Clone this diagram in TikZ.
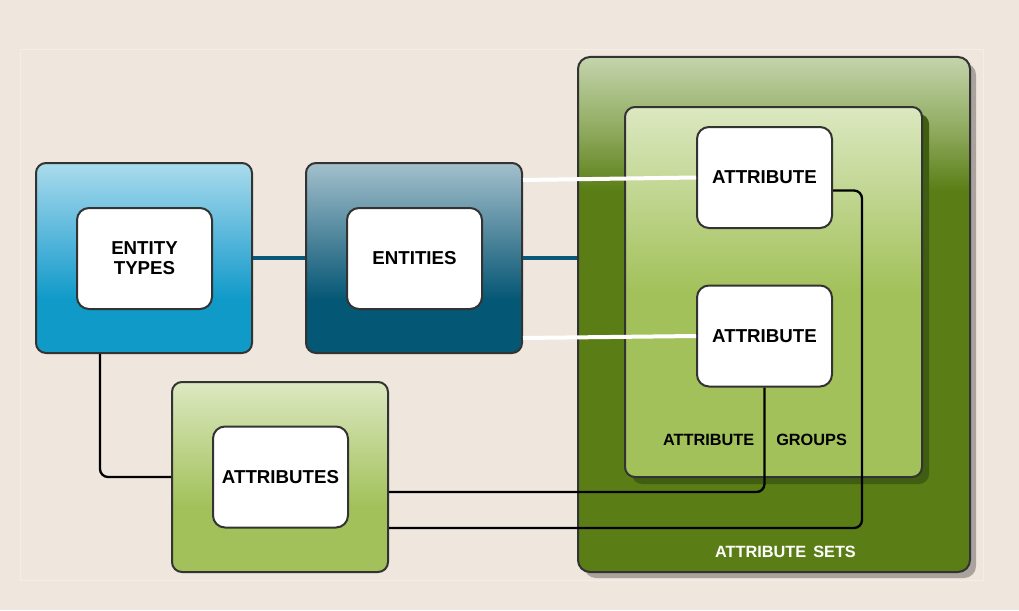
\documentclass[tikz,border=0pt]{standalone}
\usepackage{fontspec}
\setmainfont{Liberation Sans}
\usetikzlibrary{shadows}

\definecolor{pagebg}{HTML}{EFE6DD}
\definecolor{panelrim}{HTML}{F5EEE7}
\definecolor{rim}{HTML}{333333}
\definecolor{typestop}{HTML}{AADBEC}
\definecolor{typesmid}{HTML}{48B0D8}
\definecolor{typesbot}{HTML}{0F9AC8}
\definecolor{enttop}{HTML}{A3C0CC}
\definecolor{entmid}{HTML}{3F7B93}
\definecolor{entbot}{HTML}{045775}
\definecolor{settop}{HTML}{C4D4AC}
\definecolor{setmid}{HTML}{90AB60}
\definecolor{setbot}{HTML}{5A7E15}
\definecolor{grptop}{HTML}{DCE8C1}
\definecolor{grpbot}{HTML}{A2C15A}
\definecolor{setshadow}{HTML}{A9A29D}
\definecolor{grpshadow}{HTML}{3F5E12}
\definecolor{barcolor}{HTML}{0A5877}

\pgfdeclareverticalshading{typesgrad}{100bp}{color(0bp)=(typesbot); color(39bp)=(typesbot); color(52bp)=(typesmid); color(75bp)=(typestop); color(100bp)=(typestop)}
\pgfdeclareverticalshading{entgrad}{100bp}{color(0bp)=(entbot); color(39bp)=(entbot); color(52bp)=(entmid); color(75bp)=(enttop); color(100bp)=(enttop)}
\pgfdeclareverticalshading{setgrad}{100bp}{color(0bp)=(setbot); color(62bp)=(setbot); color(68bp)=(setmid); color(75bp)=(settop); color(100bp)=(settop)}
\pgfdeclareverticalshading{grpgrad}{100bp}{color(0bp)=(grpbot); color(50bp)=(grpbot); color(75bp)=(grptop); color(100bp)=(grptop)}
\pgfdeclareverticalshading{attrgrad}{100bp}{color(0bp)=(grpbot); color(42bp)=(grpbot); color(75bp)=(grptop); color(100bp)=(grptop)}

\begin{document}
\begin{tikzpicture}[x=1pt,y=-1pt,
	outerbox/.style={draw=rim, line width=2pt, rounded corners=10pt, inner sep=0pt,
		minimum width=216pt, minimum height=190pt},
	innerbox/.style={draw=rim, line width=2pt, rounded corners=12pt, fill=white, inner sep=0pt,
		minimum width=135pt, minimum height=101pt, align=center,
		font=\fontsize{18.7}{21}\selectfont\bfseries},
	caption/.style={font=\fontsize{16.3}{19}\selectfont\bfseries},
	link/.style={line width=2.3pt, rounded corners=8pt},
	bar/.style={barcolor, line width=4pt},
	wire/.style={white, line width=4pt}]
	\useasboundingbox (0,0) rectangle (1019,610);
	\fill[pagebg] (0,0) rectangle (1019,610);
	\draw[panelrim, line width=1pt] (20,50) rectangle (983,580);
	% nested sets and groups
	\node[outerbox, shading=setgrad, rounded corners=12pt, minimum width=392pt, minimum height=515pt,
		drop shadow={shadow xshift=6pt, shadow yshift=-6pt, fill=setshadow, opacity=1}] (setsbox) at (774,314.5) {};
	\node[outerbox, shading=grpgrad, minimum width=297pt, minimum height=370pt,
		drop shadow={shadow xshift=7pt, shadow yshift=-7pt, fill=grpshadow, opacity=1}] (grpbox) at (773.5,292) {};
	\node[caption] (grplabel) at (755,440) {ATTRIBUTE\hspace{22pt}GROUPS};
	\node[caption, white] (setlabel) at (785.5,552) {ATTRIBUTE\hspace{7pt}SETS};
	\node[innerbox] (attr1) at (764.5,177.5) {ATTRIBUTE};
	\node[innerbox] (attr2) at (764.5,336) {ATTRIBUTE};
	% left boxes
	\node[outerbox, shading=typesgrad] (typesbox) at (144,258) {};
	\node[innerbox] (types) at (144.5,258.5) {ENTITY\\[-1pt]TYPES};
	\node[outerbox, shading=entgrad] (entbox) at (414,258) {};
	\node[innerbox] (ent) at (414.5,258.5) {ENTITIES};
	\node[outerbox, shading=attrgrad] (attrsbox) at (280,477) {};
	\node[innerbox] (attrs) at (280.5,477) {ATTRIBUTES};
	% connectors
	\draw[bar] (typesbox.east) -- (entbox.west);
	\draw[bar] (entbox.east) -- (setsbox.west |- entbox.east);
	\draw[wire] ([yshift=78pt]entbox.east) -- (attr1.west);
	\draw[wire] ([yshift=-80pt]entbox.east) -- (attr2.west);
	\draw[link] ([xshift=-44pt]typesbox.south) |- (attrsbox.west);
	\draw[link] ([yshift=-15pt]attrsbox.east) -| (attr2.south);
	\draw[link] ([yshift=-51pt]attrsbox.east) -| ([xshift=29pt,yshift=-13pt]attr1.east) -- ([yshift=-13pt]attr1.east);
\end{tikzpicture}
\end{document}
